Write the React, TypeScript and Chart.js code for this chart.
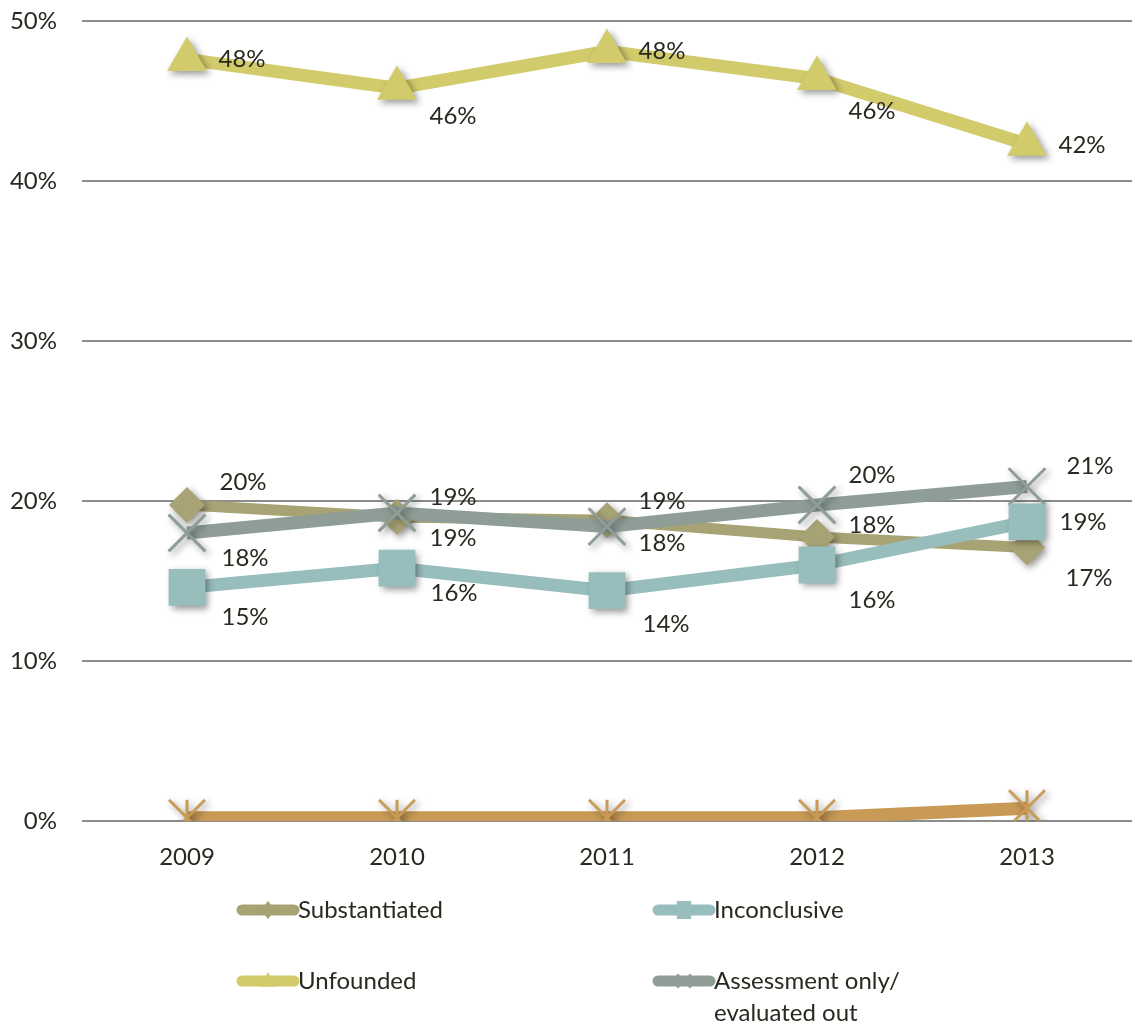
import React, { useEffect, useRef } from 'react';
import { Chart, registerables, PointElement } from 'chart.js';

Chart.register(...registerables);

// ---- data ----
const categories = ['2009', '2010', '2011', '2012', '2013'];
const substantiated = [19.75, 19.0, 18.8, 17.75, 17.1];
const inconclusive = [14.6, 15.8, 14.4, 16.0, 18.7];
const unfounded = [47.6, 45.8, 48.1, 46.4, 42.3];
const assessmentOnly = [18.0, 19.25, 18.4, 19.75, 20.9];
const otherSeries = [0.2, 0.2, 0.2, 0.2, 0.8];
const yTickValues = [0, 10, 20, 30, 40, 50];
const seriesNames = ['Substantiated', 'Inconclusive', 'Unfounded', 'Assessment only/ evaluated out', ''];
const legendLabels: string[][] = [['Substantiated'], ['Inconclusive'], ['Unfounded'], ['Assessment only/', 'evaluated out']];

const FONT = 'Lato, "Noto Sans", sans-serif';
const FSIZE = 24;
const TEXT = '#2a2920';

const C_SUB = '#a8a374';
const C_INC = '#97bdbd';
const C_UNF = '#d2cb6b';
const C_ASS = '#8e9e96';
const C_OTH = '#c89a55';

// shadow for markers
const PP: any = PointElement.prototype as any;
if (!PP.__shadowPatched) {
  const orig = PP.draw;
  PP.draw = function (ctx: CanvasRenderingContext2D, area: any) {
    ctx.save();
    ctx.shadowColor = 'rgba(0,0,0,0.42)';
    ctx.shadowBlur = 7;
    ctx.shadowOffsetX = 3;
    ctx.shadowOffsetY = 3;
    orig.call(this, ctx, area);
    ctx.restore();
  };
  PP.__shadowPatched = true;
}

function makeStar(color: string): HTMLCanvasElement {
  const c = document.createElement('canvas');
  c.width = 40;
  c.height = 40;
  const g = c.getContext('2d')!;
  g.strokeStyle = color;
  g.lineWidth = 3;
  g.beginPath();
  g.moveTo(20, 2);
  g.lineTo(20, 38);
  g.moveTo(2, 2);
  g.lineTo(38, 38);
  g.moveTo(38, 2);
  g.lineTo(2, 38);
  g.stroke();
  return c;
}

function drawMarker(ctx: CanvasRenderingContext2D, style: string, x: number, y: number, r: number, color: string) {
  ctx.save();
  ctx.fillStyle = color;
  ctx.strokeStyle = color;
  ctx.beginPath();
  if (style === 'rectRot') {
    ctx.moveTo(x, y - r);
    ctx.lineTo(x + r * 0.8, y);
    ctx.lineTo(x, y + r);
    ctx.lineTo(x - r * 0.8, y);
    ctx.closePath();
    ctx.fill();
  } else if (style === 'rect') {
    ctx.rect(x - r * 0.8, y - r, r * 1.6, r * 2);
    ctx.fill();
  } else if (style === 'triangle') {
    ctx.moveTo(x, y - r);
    ctx.lineTo(x + r * 0.9, y + r * 0.6);
    ctx.lineTo(x - r * 0.9, y + r * 0.6);
    ctx.closePath();
    ctx.fill();
  } else {
    ctx.lineWidth = 2;
    ctx.moveTo(x - r * 0.7, y - r * 0.7);
    ctx.lineTo(x + r * 0.7, y + r * 0.7);
    ctx.moveTo(x + r * 0.7, y - r * 0.7);
    ctx.lineTo(x - r * 0.7, y + r * 0.7);
    ctx.stroke();
  }
  ctx.restore();
}

const valueLabelPlugin = {
  id: 'valueLabels',
  afterDatasetsDraw(chart: any) {
    const ctx: CanvasRenderingContext2D = chart.ctx;
    ctx.save();
    ctx.font = `${FSIZE}px ${FONT}`;
    ctx.fillStyle = TEXT;
    ctx.textAlign = 'center';
    ctx.textBaseline = 'middle';
    chart.data.datasets.forEach((ds: any, i: number) => {
      if (!ds.labelOffsets) return;
      const meta = chart.getDatasetMeta(i);
      meta.data.forEach((pt: any, j: number) => {
        const off = ds.labelOffsets[j];
        if (!off) return;
        const v = ds.data[j];
        ctx.fillText(Math.round(v) + '%', pt.x + off[0], pt.y + off[1]);
      });
    });
    ctx.restore();
  },
};

const legendPlugin = {
  id: 'customLegend',
  afterDraw(chart: any) {
    const ctx: CanvasRenderingContext2D = chart.ctx;
    const slots = [
      { x: 237, y: 910 },
      { x: 653, y: 910 },
      { x: 237, y: 981 },
      { x: 653, y: 981 },
    ];
    ctx.save();
    ctx.font = `${FSIZE}px ${FONT}`;
    ctx.textAlign = 'left';
    ctx.textBaseline = 'middle';
    legendLabels.forEach((lines, i) => {
      const ds = chart.data.datasets[i];
      const s = slots[i];
      ctx.strokeStyle = ds.borderColor;
      ctx.lineWidth = 11;
      ctx.lineCap = 'round';
      ctx.beginPath();
      ctx.moveTo(s.x + 5, s.y);
      ctx.lineTo(s.x + 57, s.y);
      ctx.stroke();
      drawMarker(ctx, ds.pointStyle, s.x + 31, s.y, 9, ds.pointBorderColor || ds.borderColor);
      ctx.fillStyle = TEXT;
      lines.forEach((t, k) => ctx.fillText(t, s.x + 61, s.y + k * 32));
    });
    ctx.restore();
  },
};

export default function App() {
  const ref = useRef<HTMLCanvasElement | null>(null);
  useEffect(() => {
    document.body.style.margin = '0';
    if (!ref.current) return;
    const chart = new Chart(ref.current, {
      type: 'line',
      data: {
        labels: categories,
        datasets: [
          {
            label: seriesNames[0],
            data: substantiated,
            borderColor: C_SUB,
            backgroundColor: C_SUB,
            borderWidth: 11,
            pointStyle: 'rectRot',
            pointRadius: 18,
            pointBorderWidth: 0,
            pointBackgroundColor: C_SUB,
            order: 3,
            labelOffsets: [[56, -23], [56, -20], [55, -19], [55, -12], [62, 31]],
          } as any,
          {
            label: seriesNames[1],
            data: inconclusive,
            borderColor: C_INC,
            backgroundColor: C_INC,
            borderWidth: 13,
            pointStyle: 'rect',
            pointRadius: 26,
            pointBorderWidth: 0,
            pointBackgroundColor: C_INC,
            order: 1,
            labelOffsets: [[58, 30], [57, 25], [59, 34], [55, 35], [56, 0]],
          } as any,
          {
            label: seriesNames[2],
            data: unfounded,
            borderColor: C_UNF,
            backgroundColor: C_UNF,
            borderWidth: 13,
            pointStyle: 'triangle',
            pointRadius: 23,
            pointBorderWidth: 0,
            pointBackgroundColor: C_UNF,
            order: 4,
            labelOffsets: [[55, 0], [56, 28], [55, 0], [55, 33], [55, 1]],
          } as any,
          {
            label: seriesNames[3],
            data: assessmentOnly,
            borderColor: C_ASS,
            backgroundColor: C_ASS,
            borderWidth: 13,
            pointStyle: 'crossRot',
            pointRadius: 26,
            pointBorderWidth: 3,
            pointBorderColor: C_ASS,
            order: 2,
            labelOffsets: [[58, 25], [56, 25], [55, 17], [55, -30], [63, -20]],
          } as any,
          {
            label: seriesNames[4],
            data: otherSeries,
            borderColor: C_OTH,
            backgroundColor: C_OTH,
            borderWidth: 13,
            pointStyle: makeStar(C_OTH) as any,
            pointRadius: 18,
            order: 0,
          } as any,
        ],
      },
      options: {
        animation: false,
        responsive: true,
        maintainAspectRatio: false,
        layout: { autoPadding: false, padding: { top: 21, right: 3, left: 0, bottom: 0 } },
        plugins: {
          legend: { display: false },
          tooltip: { enabled: false },
        },
        elements: { line: { tension: 0 } },
        scales: {
          x: {
            offset: true,
            grid: { display: true, color: 'rgba(0,0,0,0)', drawTicks: true, tickLength: 22, tickColor: 'rgba(0,0,0,0)', offset: true },
            border: { display: false },
            ticks: {
              font: { family: FONT, size: FSIZE },
              color: TEXT,
              padding: 0,
              maxRotation: 0,
            },
            afterFit: (s: any) => {
              s.height = 207;
              s.paddingLeft = 0;
              s.paddingRight = 0;
            },
          },
          y: {
            min: 0,
            max: 50,
            afterBuildTicks: (s: any) => {
              s.ticks = yTickValues.map((v) => ({ value: v }));
            },
            grid: { color: '#8c8c8c', lineWidth: 2, drawTicks: true, tickLength: 25, tickColor: 'rgba(0,0,0,0)' },
            border: { display: false },
            ticks: {
              font: { family: FONT, size: FSIZE },
              color: TEXT,
              padding: 0,
              callback: (v: any) => v + '%',
            },
            afterFit: (s: any) => {
              s.width = 82;
              s.paddingTop = 0;
              s.paddingBottom = 0;
            },
          },
        },
      },
      plugins: [valueLabelPlugin, legendPlugin],
    });
    return () => chart.destroy();
  }, []);
  return (
    <div style={{ width: 1135, height: 1028, position: 'relative' }}>
      <canvas ref={ref} />
    </div>
  );
}
